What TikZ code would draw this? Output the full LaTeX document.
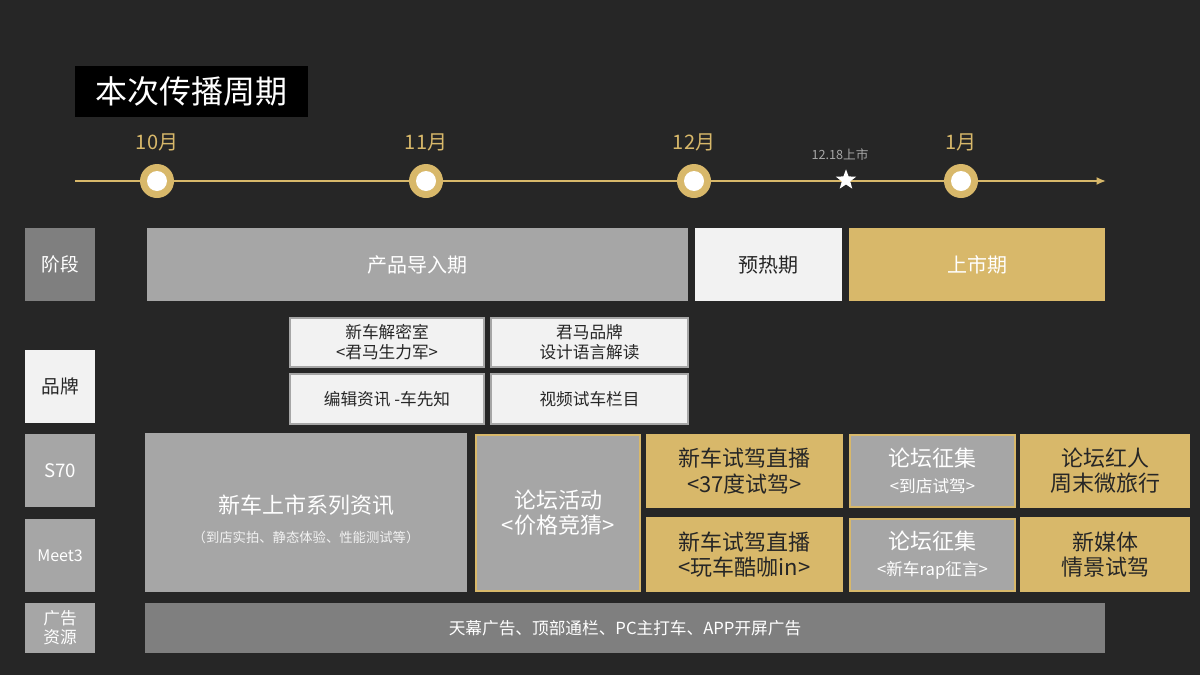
\documentclass[tikz,border=0pt]{standalone}
\usepackage{fontspec}
\setmainfont{Noto Sans CJK SC}
\usetikzlibrary{shapes.geometric,arrows.meta}
\definecolor{bg}{HTML}{262626}
\definecolor{gold}{HTML}{D8B86A}
\definecolor{gA}{HTML}{A6A6A6}
\definecolor{gB}{HTML}{7F7F7F}
\definecolor{wL}{HTML}{F2F2F2}
\tikzset{
 bx/.style={minimum width=#1*0.75pt},
 box/.style={draw=none,inner sep=0pt,align=center,font=\fontsize{15}{18}\selectfont},
 lbl/.style={box,fill=gB,text=white,font=\fontsize{14}{16}\selectfont},
 gbox/.style={box,fill=gA,text=white},
 yel/.style={box,fill=gold,text=bg,font=\fontsize{16.5}{19}\selectfont},
 gg/.style={box,fill=gA,draw=gold,line width=2.2pt,text=white,font=\fontsize{16.5}{19}\selectfont},
 wbox/.style={box,fill=wL,draw=gA,line width=0.8pt,text=bg,font=\fontsize{12.5}{15}\selectfont},
 mon/.style={text=gold,font=\fontsize{15}{18}\selectfont},
 dot/.style={circle,fill=gold,minimum size=25.5pt,inner sep=0pt,path picture={\fill[white] (path picture bounding box.center) circle (7.5pt);}}
}
\newcommand{\R}[6]{\node[#1,minimum width=(#4-#2)*0.75pt,minimum height=(#5-#3)*0.75pt] (#6) at ({(#2+#4)/2},{(#3+#5)/2})}
\begin{document}
\begin{tikzpicture}[x=0.75pt,y=-0.75pt]
\fill[bg] (0,0) rectangle (1200,675);
\useasboundingbox (0,0) rectangle (1200,675);
\R{box}{75}{66}{308}{117}{title}[fill=black,text=white,font=\fontsize{24}{28}\selectfont]{本次传播周期};
\coordinate (ls) at (75,181); \coordinate (le) at (1106,181);
\draw[gold,line width=2pt,-{Latex[length=7pt,width=6pt]}] (ls) -- (le);
\foreach \x/\m/\n in {157/10月/a,426/11月/b,694/12月/c,961/1月/d}{
 \node[dot] (d\n) at (\x,181) {};
 \node[mon] (m\n) at (\x,142) {\m};}
\node[star,star points=5,star point ratio=2.4,fill=white,minimum size=16pt,inner sep=0pt] (st) at (846,180) {};
\node[text=gA,font=\fontsize{9.5}{11}\selectfont] (st12) at (840,155) {12.18上市};
\R{lbl}{25}{228}{95}{301}{l1}{阶段};
\R{lbl}{25}{350}{95}{423}{l2}[fill=wL,text=bg]{品牌};
\R{lbl}{25}{434}{95}{507}{l3}[fill=gA]{S70};
\R{lbl}{25}{519}{95}{592}{l4}[fill=gA,font=\fontsize{12}{14}\selectfont]{Meet3};
\R{lbl}{25}{603}{95}{653}{l5}[fill=gA,font=\fontsize{12.5}{14}\selectfont]{广告\\资源};
\R{gbox}{147}{228}{688}{301}{p1}{产品导入期};
\R{box}{695}{228}{842}{301}{p2}[fill=wL,text=bg]{预热期};
\R{box}{849}{228}{1105}{301}{p3}[fill=gold,text=white]{上市期};
\R{wbox}{290}{318}{484}{367}{b1}{新车解密室\\<君马生力军>};
\R{wbox}{491}{318}{688}{367}{b2}{君马品牌\\设计语言解读};
\R{wbox}{290}{374}{484}{424}{b3}{编辑资讯 -车先知};
\R{wbox}{491}{374}{688}{424}{b4}{视频试车栏目};
\R{gbox}{145}{433}{467}{592}{s1}{};
\node[text=white,font=\fontsize{16.5}{19}\selectfont] (s1a) at (306,505) {新车上市系列资讯};
\node[text=wL,font=\fontsize{10}{12}\selectfont] (s1b) at (306,537) {（到店实拍、静态体验、性能测试等）};
\R{gg}{476}{435}{640}{591}{s2}{论坛活动\\<价格竞猜>};
\R{yel}{646}{434}{843}{508}{s3}{新车试驾直播\\<37度试驾>};
\R{yel}{646}{517}{843}{592}{s4}{新车试驾直播\\<玩车酷咖in>};
\R{gg}{850}{435}{1015}{507}{s5}{论坛征集\\{\fontsize{12.5}{15}\selectfont<到店试驾>}};
\R{gg}{850}{519}{1015}{591}{s6}{论坛征集\\{\fontsize{12.5}{15}\selectfont<新车rap征言>}};
\R{yel}{1020}{434}{1190}{508}{s7}{论坛红人\\周末微旅行};
\R{yel}{1020}{517}{1190}{592}{s8}{新媒体\\情景试驾};
\R{box}{145}{603}{1105}{653}{ad}[fill=gB,text=white,font=\fontsize{12.5}{15}\selectfont]{天幕广告、顶部通栏、PC主打车、APP开屏广告};
\end{tikzpicture}
\end{document}
